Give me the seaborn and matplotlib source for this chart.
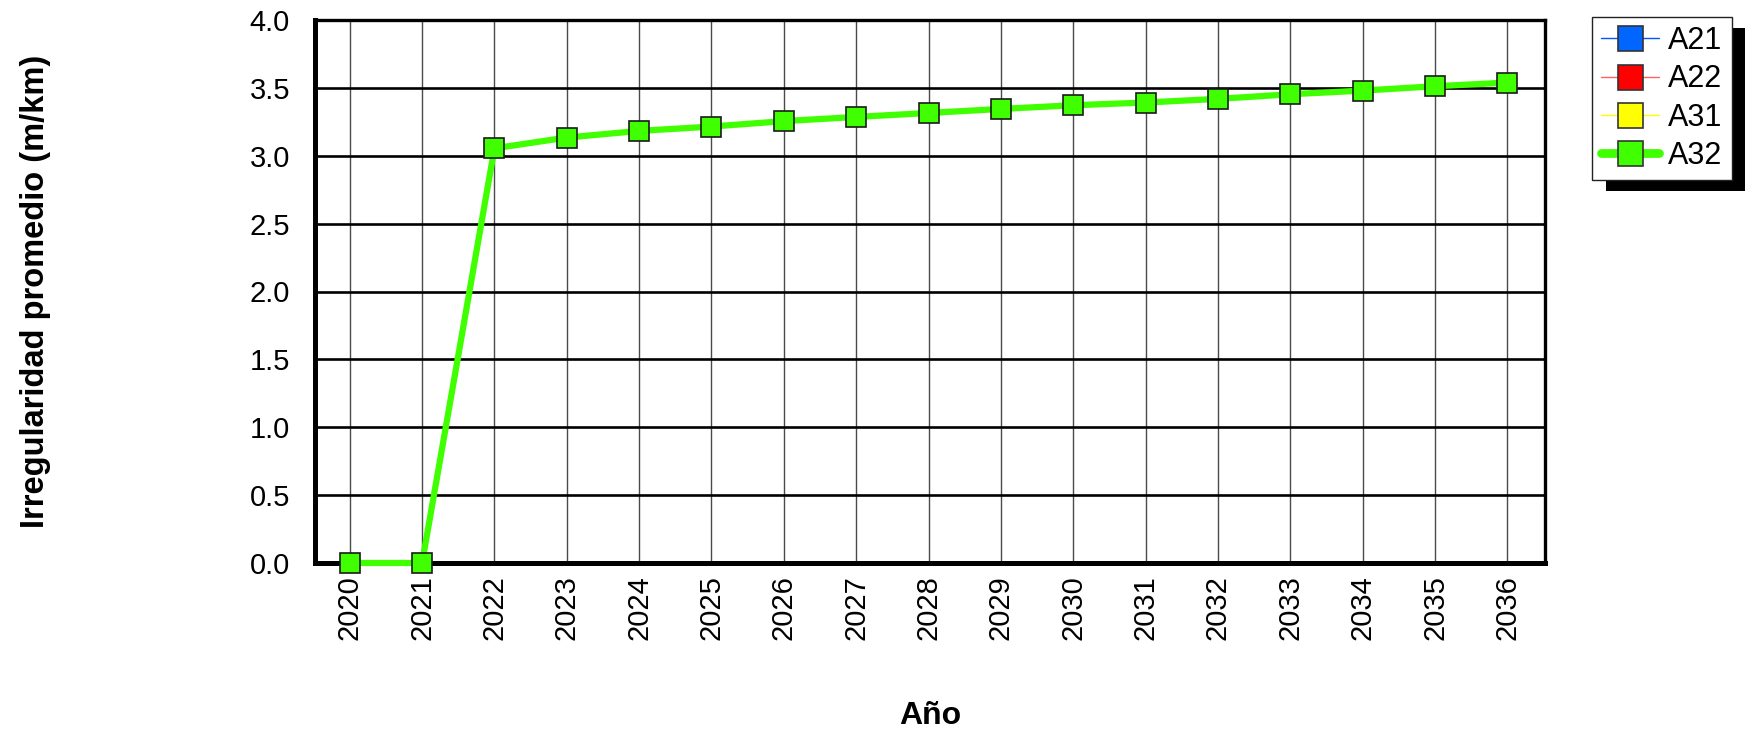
import numpy as np
import pandas as pd
import seaborn as sns
import matplotlib
matplotlib.use("Agg")
import matplotlib.pyplot as plt
from matplotlib.lines import Line2D
from matplotlib.patches import Rectangle

# ---------------- data ----------------
years = [2020, 2021, 2022, 2023, 2024, 2025, 2026, 2027, 2028,
         2029, 2030, 2031, 2032, 2033, 2034, 2035, 2036]
a32 = [0.0, 0.0, 3.055, 3.134, 3.183, 3.215, 3.255, 3.286, 3.315,
       3.345, 3.372, 3.392, 3.419, 3.453, 3.480, 3.512, 3.539]
# series shown only in the legend (no visible values in the chart)
a21 = [np.nan] * len(years)
a22 = [np.nan] * len(years)
a31 = [np.nan] * len(years)
series_names = ["A21", "A22", "A31", "A32"]
y_ticks = [0.0, 0.5, 1.0, 1.5, 2.0, 2.5, 3.0, 3.5, 4.0]
x_label = "Año"
y_label = "Irregularidad promedio (m/km)"

# ---------------- style ----------------
sns.set_style("white")
plt.rcParams["font.family"] = ["Liberation Sans", "DejaVu Sans"]
plt.rcParams["text.color"] = "black"
plt.rcParams["axes.labelcolor"] = "black"
plt.rcParams["xtick.color"] = "black"
plt.rcParams["ytick.color"] = "black"

W, H = 1745, 733
fig = plt.figure(figsize=(W / 100, H / 100), dpi=100)
ax = fig.add_axes([315 / W, 1 - 563 / H, (1545 - 315) / W, (563 - 20) / H])

green = "#40ff00"
line_styles = {
    "A21": dict(line="#0055ff", face="#0066ff", lw=1.0),
    "A22": dict(line="#ff6060", face="#ff0000", lw=1.0),
    "A31": dict(line="#ffff00", face="#ffff00", lw=1.0),
    "A32": dict(line=green, face=green, lw=4.5),
}

# hidden series (empty)
for name, vals in zip(["A21", "A22", "A31"], [a21, a22, a31]):
    st = line_styles[name]
    ax.plot(years, vals, color=st["line"], lw=st["lw"], marker="s",
            markerfacecolor=st["face"], markeredgecolor="#222222")

df = pd.DataFrame({"Año": years, "val": a32})
sns.lineplot(data=df, x="Año", y="val", ax=ax, color=green, lw=4.5,
             marker="s", markersize=14.5, markerfacecolor=green,
             markeredgecolor="#1a1a1a", markeredgewidth=1.2, legend=False,
             zorder=5, clip_on=False)

ax.set_xlim(years[0] - 0.48, years[-1] + 0.52)
ax.set_ylim(0, 4)
ax.set_xticks(years)
ax.set_xticklabels([str(y) for y in years], rotation=90, fontsize=21)
ax.set_yticks(y_ticks)
ax.set_yticklabels([f"{v:.1f}" for v in y_ticks], fontsize=21)
ax.tick_params(axis="y", length=0, pad=18)
ax.tick_params(axis="x", length=0, pad=9)

ax.set_axisbelow(True)
ax.yaxis.grid(True, color="black", lw=1.9)
ax.xaxis.grid(True, color="#4a4a4a", lw=1.0)

for s in ["left", "bottom"]:
    ax.spines[s].set_linewidth(3.6)
    ax.spines[s].set_color("black")
for s in ["top", "right"]:
    ax.spines[s].set_linewidth(2.4)
    ax.spines[s].set_color("black")

ax.set_xlabel(x_label, fontsize=23, fontweight="bold")
ax.set_ylabel(y_label, fontsize=23.5, fontweight="bold")
ax.xaxis.set_label_coords(0.5, -0.282)
ax.xaxis.label.set_va("center")
ax.yaxis.set_label_coords((36 - 315) / 1230, 0.5)
ax.yaxis.label.set_va("center")

# legend
handles = []
for name in series_names:
    st = line_styles[name]
    handles.append(Line2D([0], [0], color=st["line"], lw=st["lw"] * (1.4 if name == "A32" else 1),
                          marker="s", markersize=18, markerfacecolor=st["face"],
                          markeredgecolor="#333333", markeredgewidth=1.2,
                          solid_capstyle="round"))
leg = fig.legend(handles, series_names, loc="upper left",
                 bbox_to_anchor=(1592 / W, 1 - 17 / H), bbox_transform=fig.transFigure,
                 fontsize=22, frameon=True, fancybox=False, framealpha=1,
                 edgecolor="#222222", handlelength=1.9, handletextpad=0.3,
                 labelspacing=0.27, borderpad=0.3, borderaxespad=0)
leg.get_frame().set_linewidth(1.0)
leg.set_zorder(10)

fig.canvas.draw()
bb = leg.get_window_extent()
dx, dy = 14, 11
shadow = Rectangle(((bb.x0 + dx) / W, (bb.y0 - dy) / H), bb.width / W, bb.height / H,
                   transform=fig.transFigure, facecolor="black", edgecolor="none",
                   zorder=9)
fig.patches.append(shadow)

fig.savefig("out.png", dpi=100, facecolor="white")
